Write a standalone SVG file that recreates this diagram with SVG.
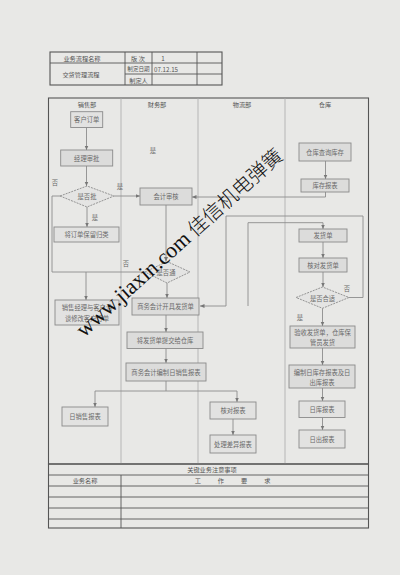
<svg xmlns="http://www.w3.org/2000/svg" width="400" height="575" viewBox="0 0 400 575">
<defs>
<marker id="ah" markerWidth="5" markerHeight="5" refX="4.5" refY="2.5" orient="auto" markerUnits="userSpaceOnUse">
<path d="M0,0.5 L4.5,2.5 L0,4.5 z" fill="#777"/>
</marker>
</defs>
<style>
.t{font-family:"Noto Sans CJK SC","Liberation Serif",serif;font-size:6.3px;fill:#6a6a6a;text-anchor:middle;dominant-baseline:central}
.h{font-family:"Noto Sans CJK SC","Liberation Serif",serif;font-size:6.2px;fill:#555;text-anchor:middle;dominant-baseline:central}
.box{fill:#dcdcdb;stroke:#8a8a8a;stroke-width:0.9}
.lbox{fill:#e2e2e1;stroke:#8a8a8a;stroke-width:0.9}
.dia{fill:#e4e4e3;stroke:#8a8a8a;stroke-width:0.9;stroke-dasharray:2,1}
.c{fill:none;stroke:#8c8c8c;stroke-width:0.9}
.a{marker-end:url(#ah)}
.frame{fill:none;stroke:#555;stroke-width:1.1}
.div{stroke:#aaa;stroke-width:0.8}
.tl{stroke:#555;stroke-width:0.9}
.wm{font-family:"Liberation Serif",serif;font-size:22px;fill:#111}
.wmc{font-family:"Noto Sans CJK SC",sans-serif;font-size:20px;font-weight:300;fill:#111}
</style>
<rect x="0" y="0" width="400" height="575" fill="#e8e8e6"/>

<g id="header-table">
<rect x="50" y="52" width="172" height="33" class="frame"/>
<line x1="50" y1="63" x2="222" y2="63" class="tl"/>
<line x1="125" y1="74" x2="222" y2="74" class="tl"/>
<line x1="125" y1="52" x2="125" y2="85" class="tl"/>
<line x1="152" y1="52" x2="152" y2="85" class="tl"/>
<line x1="197" y1="52" x2="197" y2="85" class="tl"/>
<text x="82" y="58" class="h">业务流程名称</text>
<text x="138" y="58" class="h">版 次</text>
<text x="163" y="58" class="h">1</text>
<text x="81" y="74" class="h">交货管理流程</text>
<text x="138.5" y="69" class="h" style="font-size:5.6px">制定日期</text>
<text x="166" y="69" class="h">07.12.15</text>
<text x="138.5" y="80" class="h">制定人</text>
</g>

<g id="frame">
<rect x="48.5" y="98" width="320" height="366" class="frame"/>
<line x1="121" y1="98" x2="121" y2="464" class="div"/>
<line x1="198" y1="98" x2="198" y2="464" class="div"/>
<line x1="285" y1="98" x2="285" y2="464" class="div"/>
<text x="87" y="104" class="h">销售部</text>
<text x="157" y="104" class="h">财务部</text>
<text x="242" y="104" class="h">物流部</text>
<text x="325" y="104" class="h">仓库</text>
</g>

<g id="connectors">
<path d="M86.5,127.5 V150" class="c a"/>
<path d="M86.5,166 V186" class="c a"/>
<path d="M114,196 H140" class="c a"/>
<path d="M87,207 V227" class="c a"/>
<path d="M60,196 H52 V272 H145" class="c"/>
<path d="M86,272 V300" class="c a"/>
<path d="M166,205 V261.5" class="c a"/>
<path d="M167,283 V298" class="c a"/>
<path d="M166,315 V332" class="c a"/>
<path d="M166,348.5 V363" class="c a"/>
<path d="M166,381 V391 H95" class="c"/>
<path d="M95,391 V407" class="c a"/>
<path d="M166,391 H237 V402" class="c a"/>
<path d="M233,419 V435" class="c a"/>
<path d="M325.5,161 V179" class="c a"/>
<path d="M325.5,192 V197 H192" class="c a"/>
<path d="M248,306 V222.7 H323 V229" class="c a"/>
<path d="M323,242 V258" class="c a"/>
<path d="M323,272 V287" class="c a"/>
<path d="M349,297.5 H363 V216 H226 V306 H200" class="c a"/>
<path d="M322.5,308.3 V326" class="c a"/>
<path d="M322.5,348 V365" class="c a"/>
<path d="M322.5,388 V401" class="c a"/>
<path d="M322.5,417.5 V430" class="c a"/>
<text x="55" y="182" class="t">否</text>
<text x="120" y="186" class="t">是</text>
<text x="153" y="150" class="t">是</text>
<text x="95" y="217" class="t">是</text>
<text x="126" y="263" class="t">否</text>
<text x="347" y="288" class="t">否</text>
<text x="300" y="317" class="t">是</text>
</g>

<g id="n-kehudingdan"><rect x="70.7" y="111.7" width="32" height="15.8" class="lbox"/><text x="86.7" y="119.6" class="t">客户订单</text></g>
<g id="n-jinglishenpi"><rect x="60.7" y="150" width="52" height="16" class="box"/><text x="86.7" y="158" class="t">经理审批</text></g>
<g id="n-shifoupi"><polygon points="60,196 87,186 114,196 87,207" class="dia"/><text x="87" y="196.5" class="t">是否批</text></g>
<g id="n-jiangdingdan"><rect x="54" y="227" width="65" height="15" class="lbox"/><text x="86.5" y="234.5" class="t">将订单保留归类</text></g>
<g id="n-xiaoshoujingli"><rect x="55" y="300" width="64" height="25" class="lbox"/><text x="87" y="307.5" class="t">销售经理与客户洽</text><text x="87" y="318" class="t">谈修改客户订单</text></g>
<g id="n-kuaijishenhe"><rect x="140" y="188" width="52" height="17" class="box"/><text x="166" y="196.5" class="t">会计审核</text></g>
<g id="n-shifoutong"><polygon points="145,272 167,261.5 190,272 167,283" class="dia"/><text x="166" y="272.5" class="t">是否通</text></g>
<g id="n-kaiju"><rect x="132" y="298" width="67" height="17" class="box"/><text x="165.5" y="306.5" class="t">商务会计开具发货单</text></g>
<g id="n-tijiao"><rect x="127" y="332" width="76" height="16.5" class="box"/><text x="165" y="340.3" class="t">将发货单提交给仓库</text></g>
<g id="n-bianzhixiaoshou"><rect x="126" y="363" width="80" height="18" class="box"/><text x="166" y="372" class="t">商务会计编制日销售报表</text></g>
<g id="n-rixiaoshou"><rect x="62" y="407" width="46" height="19" class="lbox"/><text x="85" y="416.5" class="t">日销售报表</text></g>
<g id="n-heduibaobiao"><rect x="210" y="402" width="46" height="17" class="lbox"/><text x="233" y="410.5" class="t">核对报表</text></g>
<g id="n-chuli"><rect x="210" y="435" width="46" height="18" class="lbox"/><text x="233" y="444" class="t">处理差异报表</text></g>
<g id="n-chaxun"><rect x="299" y="143" width="52" height="18" class="box"/><text x="325" y="152" class="t">仓库查询库存</text></g>
<g id="n-kucunbaobiao"><rect x="301" y="179" width="48" height="13" class="box"/><text x="325" y="185.5" class="t">库存报表</text></g>
<g id="n-fahuodan"><rect x="299" y="229" width="48" height="13" class="box"/><text x="323" y="235.5" class="t">发货单</text></g>
<g id="n-heduifahuo"><rect x="299" y="258" width="48" height="14" class="box"/><text x="323" y="265" class="t">核对发货单</text></g>
<g id="n-shifouheshi"><polygon points="296,297.5 322.5,287 349,297.5 322.5,308.3" class="dia"/><text x="322.5" y="298" class="t">是否合适</text></g>
<g id="n-yanshou"><rect x="290" y="326" width="65" height="22" class="box"/><text x="322.5" y="332.5" class="t">验收发货单，仓库保</text><text x="322.5" y="342" class="t">管员发货</text></g>
<g id="n-bianzhikucun"><rect x="289" y="365" width="66" height="23" class="box"/><text x="322" y="372" class="t">编制日库存报表及日</text><text x="322" y="382" class="t">出库报表</text></g>
<g id="n-rikubaobiao"><rect x="299" y="401" width="46" height="16.5" class="lbox"/><text x="322" y="409.3" class="t">日库报表</text></g>
<g id="n-richubaobiao"><rect x="299" y="430" width="46" height="18" class="lbox"/><text x="322" y="439" class="t">日出报表</text></g>

<g id="bottom-table">
<rect x="48.5" y="464" width="320" height="64" class="frame"/>
<line x1="48.5" y1="475" x2="368.5" y2="475" class="tl"/>
<line x1="48.5" y1="486" x2="368.5" y2="486" class="tl"/>
<line x1="48.5" y1="497" x2="368.5" y2="497" class="tl"/>
<line x1="48.5" y1="508" x2="368.5" y2="508" class="tl"/>
<line x1="48.5" y1="519" x2="368.5" y2="519" class="tl"/>
<line x1="121" y1="475" x2="121" y2="528" class="tl"/>
<text x="212" y="469.5" class="h">关键业务注意事项</text>
<text x="85" y="480.7" class="h">业务名称</text>
<text x="241" y="480.7" class="h" style="letter-spacing:17px">工作要求</text>
</g>

<g id="watermark" transform="translate(84,338) rotate(-42)">
<text x="0" y="0" class="wm">www.jiaxin.com<tspan class="wmc"> 佳信机电弹簧</tspan></text>
</g>
</svg>
